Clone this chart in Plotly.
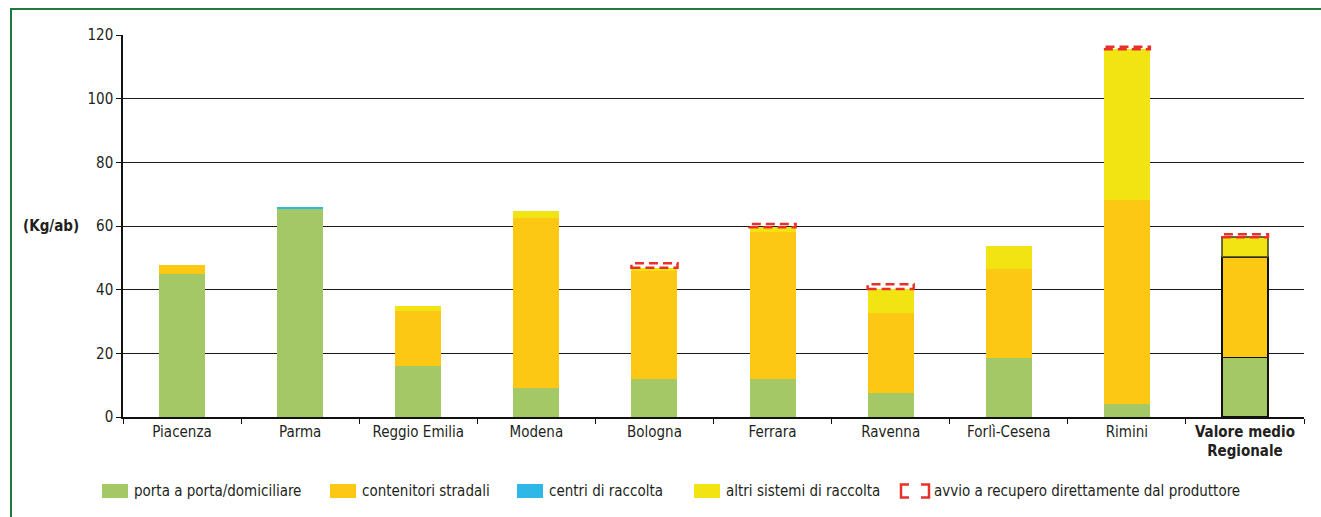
import plotly.graph_objects as go

categories = ["Piacenza", "Parma", "Reggio Emilia", "Modena", "Bologna", "Ferrara",
              "Ravenna", "Forlì-Cesena", "Rimini", "<b>Valore medio<br>Regionale</b>"]
porta_a_porta = [44.8, 65.4, 15.9, 9.2, 11.9, 11.9, 7.4, 18.6, 4.1, 18.7]
contenitori = [2.8, 0.0, 17.3, 53.4, 34.1, 46.2, 25.2, 27.8, 64.1, 31.6]
centri = [0.0, 0.6, 0.0, 0.0, 0.0, 0.0, 0.0, 0.0, 0.0, 0.0]
altri = [0.0, 0.0, 1.7, 2.2, 0.9, 1.5, 7.6, 7.4, 47.3, 6.2]
avvio = [0.0, 0.0, 0.0, 0.0, 1.4, 1.0, 1.5, 0.0, 0.8, 0.9]
y_ticks = [0, 20, 40, 60, 80, 100, 120]

series_names = ["porta a porta/domiciliare", "contenitori stradali", "centri di raccolta",
                "altri sistemi di raccolta", "avvio a recupero direttamente dal produttore"]
GREEN, ORANGE, BLUE, YELLOW, RED = "#a5c866", "#fcc813", "#2db8e8", "#f2e413", "#e8312a"

FONT = "DejaVu Sans Condensed, Liberation Sans Narrow, Arial Narrow, sans-serif"
TXT = "#231f20"
FS = 15
BARGAP = 0.61
n = len(categories)

# pixel geometry of the plot area (for legend/frame placement in paper coords)
L, R, T, B = 123, 1304, 35, 417
W, H = R - L, B - T
px = lambda x: (x - L) / W
py = lambda y: (B - y) / H


def outline(col_last):
    w = [0] * (n - 1) + [1.5]
    c = ["rgba(0,0,0,0)"] * (n - 1) + [col_last]
    return dict(width=w, color=c)


fig = go.Figure()
fig.add_bar(x=categories, y=porta_a_porta, name=series_names[0],
            marker=dict(color=GREEN, line=outline("#111111")))
fig.add_bar(x=categories, y=contenitori, name=series_names[1],
            marker=dict(color=ORANGE, line=outline("#111111")))
fig.add_bar(x=categories, y=centri, name=series_names[2],
            marker=dict(color=BLUE, line=outline("#111111")))
fig.add_bar(x=categories, y=altri, name=series_names[3],
            marker=dict(color=YELLOW, line=outline("rgba(60,60,20,0.75)")))
fig.add_bar(x=categories, y=avvio, name=series_names[4],
            marker=dict(color="rgba(0,0,0,0)", line=dict(width=0)))

# dashed outlines for the "avvio" segment (stacked on top of the other series)
half = (1 - BARGAP) / 2
shapes = []
for i, cat in enumerate(categories):
    if avvio[i] > 0:
        base = porta_a_porta[i] + contenitori[i] + centri[i] + altri[i]
        shapes.append(dict(type="rect", xref="x", yref="y", x0=cat, x1=cat,
                           x0shift=-half, x1shift=half, y0=base, y1=base + avvio[i],
                           line=dict(color=RED, width=2.5, dash="9px,5px"),
                           fillcolor="rgba(255,255,255,0)", layer="above"))

# outer green frame
shapes.append(dict(type="rect", xref="paper", yref="paper",
                   x0=px(11), x1=px(1335), y0=py(535), y1=py(9),
                   line=dict(color="#1f7a3c", width=2), layer="below"))

# legend
annotations = []
leg_y = py(491)
leg_x = [102, 330, 517, 694, 901]
colors = [GREEN, ORANGE, BLUE, YELLOW, None]
for name, col, x in zip(series_names, colors, leg_x):
    if col is not None:
        shapes.append(dict(type="rect", xref="paper", yref="paper", x0=px(x), x1=px(x + 26),
                           y0=py(498), y1=py(484), fillcolor=col, line=dict(width=0)))
        tx = px(x + 30)
    else:
        shapes.append(dict(type="rect", xref="paper", yref="paper", x0=px(x), x1=px(x + 28),
                           y0=py(497.5), y1=py(484.5), fillcolor="rgba(0,0,0,0)",
                           line=dict(color=RED, width=2.5, dash="8px,12px,29px,12px,23px")))
        tx = px(x + 31)
    annotations.append(dict(text=name, xref="paper", yref="paper", x=tx, y=leg_y,
                            xanchor="left", yanchor="middle", showarrow=False,
                            font=dict(family=FONT, size=FS, color=TXT)))

annotations.append(dict(text="<b>(Kg/ab)</b>", xref="paper", yref="y",
                        x=px(81), y=60, xanchor="right", yanchor="middle",
                        showarrow=False, font=dict(family=FONT, size=FS, color=TXT)))

fig.update_layout(
    barmode="stack", bargap=BARGAP, showlegend=False,
    width=1321, height=517, margin=dict(l=L, r=1321 - R, t=T, b=517 - B),
    paper_bgcolor="white", plot_bgcolor="white",
    font=dict(family=FONT, size=FS, color=TXT),
    shapes=shapes, annotations=annotations,
    xaxis=dict(type="category", showline=True, linecolor="#111111", linewidth=1.5,
               ticks="outside", tickson="boundaries", ticklen=5, tickcolor="#111111",
               tickfont=dict(family=FONT, size=FS, color=TXT), showgrid=False),
    yaxis=dict(range=[0, 120], tickvals=y_ticks, showline=True, linecolor="#111111",
               linewidth=1.5, ticks="outside", ticklen=5, tickcolor="#111111",
               gridcolor="#1a1a1a", gridwidth=1, zeroline=False,
               tickfont=dict(family=FONT, size=FS, color=TXT)),
)

fig.write_html("out.html", config={"displayModeBar": False},
               post_script="document.body.style.margin='0';document.body.style.overflow='hidden';")
